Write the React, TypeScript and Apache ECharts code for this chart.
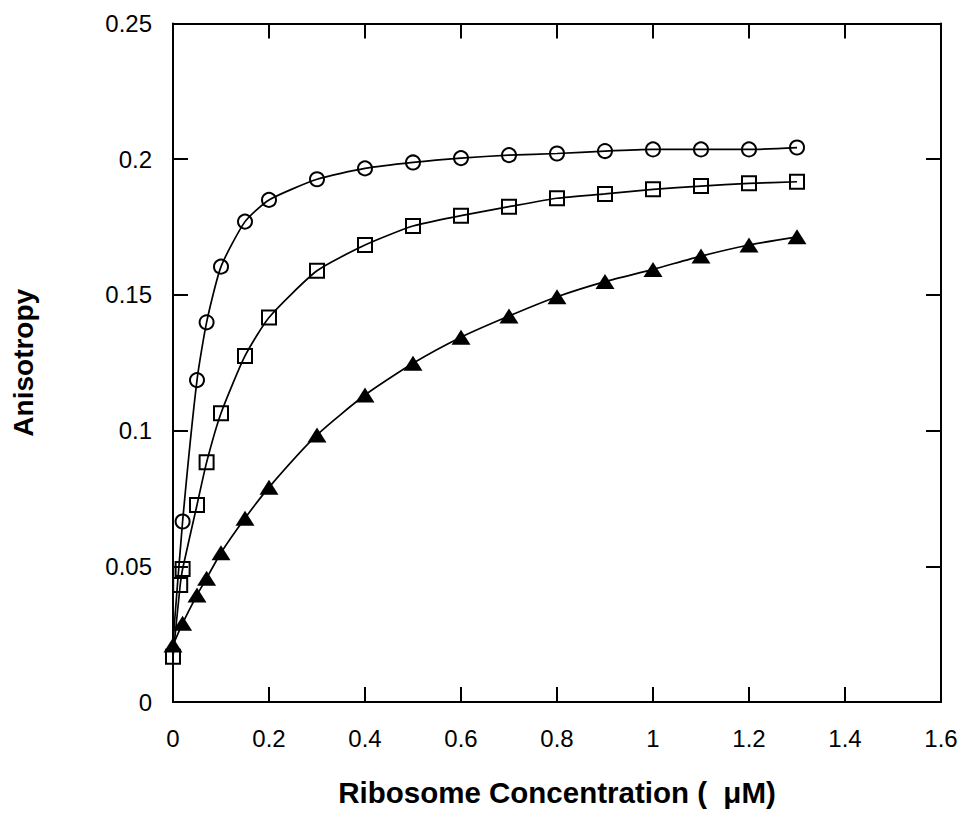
import React, { useEffect, useRef } from "react";
import * as echarts from "echarts";

// Ribosome concentration (µM) for each series
const xCircle = [0, 0.02, 0.05, 0.07, 0.1, 0.15, 0.2, 0.3, 0.4, 0.5, 0.6, 0.7, 0.8, 0.9, 1.0, 1.1, 1.2, 1.3];
const yCircle = [0.022, 0.0665, 0.1186, 0.1399, 0.1604, 0.177, 0.185, 0.1926, 0.1966, 0.1988, 0.2004, 0.2015, 0.2021, 0.203, 0.2036, 0.2036, 0.2036, 0.2043];

const xSquare = [0, 0.015, 0.02, 0.05, 0.07, 0.1, 0.15, 0.2, 0.3, 0.4, 0.5, 0.6, 0.7, 0.8, 0.9, 1.0, 1.1, 1.2, 1.3];
const ySquare = [0.0167, 0.0431, 0.049, 0.0726, 0.0883, 0.1064, 0.1275, 0.1417, 0.1589, 0.1684, 0.1754, 0.1792, 0.1825, 0.1856, 0.1872, 0.1889, 0.1901, 0.1911, 0.1917];

const xTriangle = [0, 0.02, 0.05, 0.07, 0.1, 0.15, 0.2, 0.3, 0.4, 0.5, 0.6, 0.7, 0.8, 0.9, 1.0, 1.1, 1.2, 1.3];
const yTriangle = [0.021, 0.029, 0.0394, 0.0456, 0.055, 0.0677, 0.0791, 0.0984, 0.1131, 0.1248, 0.1344, 0.1422, 0.1493, 0.1549, 0.1594, 0.1643, 0.1684, 0.1714];

const xTitle = "Ribosome Concentration (  μM)";
const yTitle = "Anisotropy";

const FONT = "'Liberation Sans', Arial, Helvetica, sans-serif";

export default function App() {
  const ref = useRef<HTMLDivElement>(null);

  useEffect(() => {
    if (!ref.current) return;
    const chart = echarts.init(ref.current, undefined, { renderer: "svg" });

    const axisLine = { show: true, onZero: false, lineStyle: { color: "#000", width: 2 } };
    const axisTick = { show: true, inside: true, length: 15, lineStyle: { color: "#000", width: 2 } };

    const circleData = xCircle.map((x, i) =>
      i === 0 ? { value: [x, yCircle[i]], symbol: "none" } : { value: [x, yCircle[i]] }
    );
    const squareData = xSquare.map((x, i) => [x, ySquare[i]]);
    const triData = xTriangle.map((x, i) => [x, yTriangle[i]]);

    const lineBase = {
      type: "line",
      smooth: 0.2,
      lineStyle: { color: "#000", width: 1.7 },
      z: 2,
    };

    chart.setOption({
      animation: false,
      backgroundColor: "#fff",
      textStyle: { fontFamily: FONT },
      grid: { left: 173, top: 23.5, right: 22, bottom: 112, containLabel: false },
      xAxis: [
        {
          type: "value",
          min: 0,
          max: 1.6,
          interval: 0.2,
          position: "bottom",
          axisLine,
          axisTick,
          splitLine: { show: false },
          axisLabel: { color: "#000", fontSize: 24, fontFamily: FONT, margin: 24 },
          name: xTitle,
          nameLocation: "middle",
          nameGap: 75,
          nameTextStyle: { color: "#000", fontSize: 29.5, fontWeight: "bold", fontFamily: FONT },
        },
        {
          type: "value",
          min: 0,
          max: 1.6,
          interval: 0.2,
          position: "top",
          axisLine,
          axisTick,
          splitLine: { show: false },
          axisLabel: { show: false },
        },
      ],
      yAxis: [
        {
          type: "value",
          min: 0,
          max: 0.25,
          interval: 0.05,
          position: "left",
          axisLine,
          axisTick,
          splitLine: { show: false },
          axisLabel: { color: "#000", fontSize: 24, fontFamily: FONT, margin: 21 },
          name: yTitle,
          nameLocation: "middle",
          nameGap: 136,
          nameRotate: 90,
          nameTextStyle: { color: "#000", fontSize: 28, fontWeight: "bold", fontFamily: FONT },
        },
        {
          type: "value",
          min: 0,
          max: 0.25,
          interval: 0.05,
          position: "right",
          axisLine,
          axisTick,
          splitLine: { show: false },
          axisLabel: { show: false },
        },
      ],
      series: [
        {
          ...lineBase,
          name: "circle",
          data: circleData,
          symbol: "circle",
          symbolSize: 14,
          showSymbol: true,
          itemStyle: { color: "rgba(0,0,0,0)", borderColor: "#000", borderWidth: 2 },
        },
        {
          ...lineBase,
          name: "square",
          data: squareData,
          symbol: "rect",
          symbolSize: 14,
          showSymbol: true,
          itemStyle: { color: "rgba(0,0,0,0)", borderColor: "#000", borderWidth: 2 },
        },
        {
          ...lineBase,
          name: "triangle",
          data: triData,
          symbol: "triangle",
          symbolSize: [19, 15],
          showSymbol: true,
          itemStyle: { color: "#000", borderColor: "#000", borderWidth: 0 },
        },
      ],
    });

    return () => chart.dispose();
  }, []);

  return (
    <div
      ref={ref}
      style={{ position: "fixed", left: 0, top: 0, width: 963, height: 814, background: "#fff" }}
    />
  );
}
